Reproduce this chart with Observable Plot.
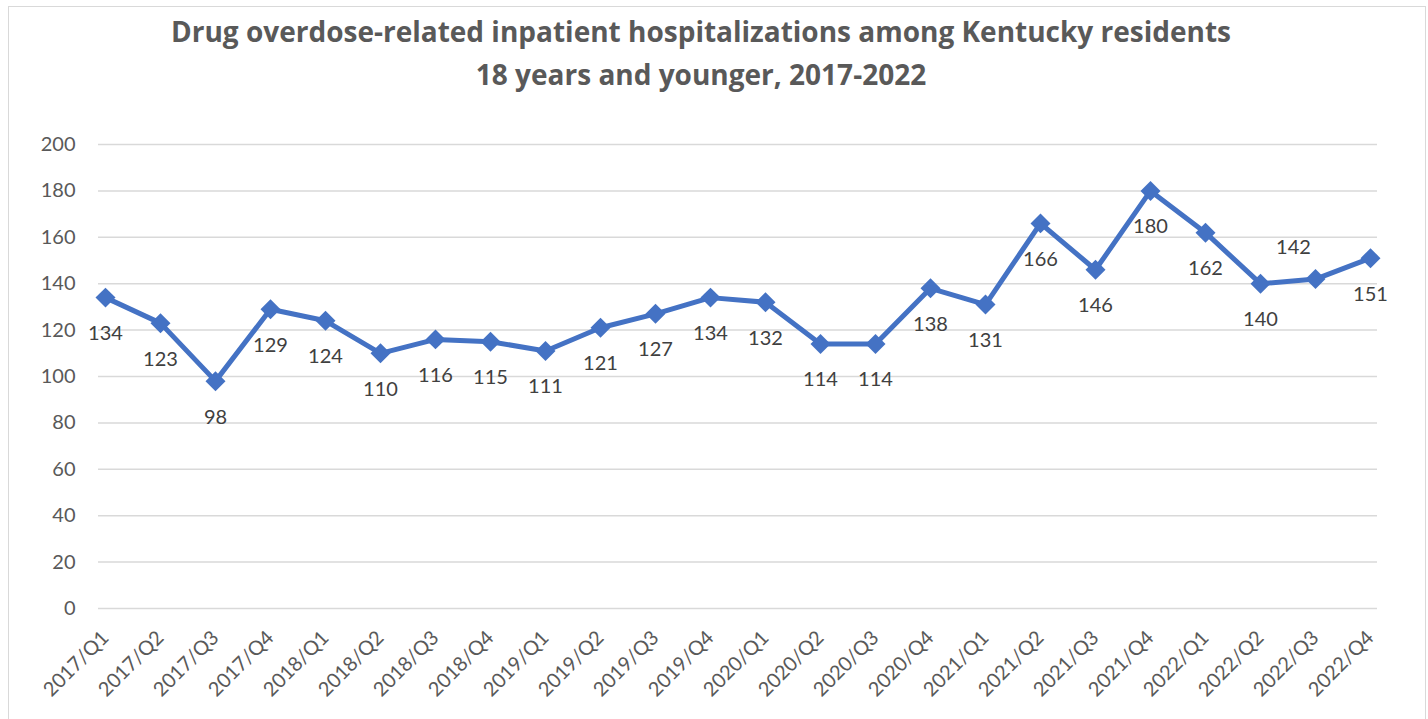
<!DOCTYPE html>
<html>
<head>
<meta charset="utf-8">
<script src="https://cdn.jsdelivr.net/npm/d3@7"></script>
<script src="https://cdn.jsdelivr.net/npm/@observablehq/plot@0.6"></script>
<style>
  html, body { margin: 0; padding: 0; background: #fff; }
  #chart { position: relative; width: 1428px; height: 719px; overflow: hidden; }
  #frame { position: absolute; left: 8px; top: 6px; width: 1418px; height: 716px;
           border: 1.5px solid #D9D9D9; box-sizing: border-box; pointer-events: none; }
  #title { position: absolute; left: 0; top: 10px; width: 1402px; text-align: center;
           font-family: "Open Sans", Lato, sans-serif; font-weight: 700; font-size: 28px;
           line-height: 43px; color: #595959; white-space: nowrap; }
  #chart svg { position: absolute; left: 0; top: 0; }
</style>
</head>
<body>
<div id="chart">
  <div id="frame"></div>
  <div id="title">Drug overdose-related inpatient hospitalizations among Kentucky residents<br>18 years and younger, 2017-2022</div>
</div>
<script>
// Quarterly hospitalization counts, 2017–2022
const quarters = [
  "2017/Q1","2017/Q2","2017/Q3","2017/Q4",
  "2018/Q1","2018/Q2","2018/Q3","2018/Q4",
  "2019/Q1","2019/Q2","2019/Q3","2019/Q4",
  "2020/Q1","2020/Q2","2020/Q3","2020/Q4",
  "2021/Q1","2021/Q2","2021/Q3","2021/Q4",
  "2022/Q1","2022/Q2","2022/Q3","2022/Q4"
];
const counts = [
  134, 123, 98, 129,
  124, 110, 116, 115,
  111, 121, 127, 134,
  132, 114, 114, 138,
  131, 166, 146, 180,
  162, 140, 142, 151
];
const yTicks = [0, 20, 40, 60, 80, 100, 120, 140, 160, 180, 200];

const rows = quarters.map((q, i) => ({quarter: q, value: counts[i]}));

// Most labels sit under their marker; the 2022/Q3 label is lifted above the line
const labelAbove = new Set(["2022/Q3"]);
const below = rows.filter(d => !labelAbove.has(d.quarter));
const above = rows.filter(d => labelAbove.has(d.quarter));

const font = "Lato, 'Open Sans', sans-serif";
const blue = "#4472C4";

const chart = Plot.plot({
  width: 1428,
  height: 719,
  marginLeft: 98,
  marginRight: 51,
  marginTop: 144,
  marginBottom: 111,
  style: {fontFamily: font, background: "transparent", overflow: "visible"},
  x: {type: "point", domain: quarters, padding: 0},
  y: {domain: [0, 200]},
  marks: [
    Plot.gridY(yTicks, {stroke: "#D9D9D9", strokeOpacity: 1, strokeWidth: 1.5}),
    Plot.axisY(yTicks, {tickSize: 0, tickPadding: 23, fontSize: 20, fill: "#595959", label: null}),
    Plot.axisX({tickSize: 0, tickPadding: 26, tickRotate: -45, fontSize: 20, fill: "#595959", label: null}),
    Plot.line(rows, {x: "quarter", y: "value", stroke: blue, strokeWidth: 5, strokeLinejoin: "round"}),
    Plot.dot(rows, {x: "quarter", y: "value", symbol: "diamond2", r: 9, fill: blue, stroke: "none"}),
    Plot.text(below, {x: "quarter", y: "value", text: d => String(d.value), dy: 36,
      fontSize: 20, fill: "#404040"}),
    Plot.text(above, {x: "quarter", y: "value", text: d => String(d.value), dy: -31, dx: -22,
      fontSize: 20, fill: "#404040"})
  ]
});
document.getElementById("chart").appendChild(chart);
</script>
</body>
</html>
